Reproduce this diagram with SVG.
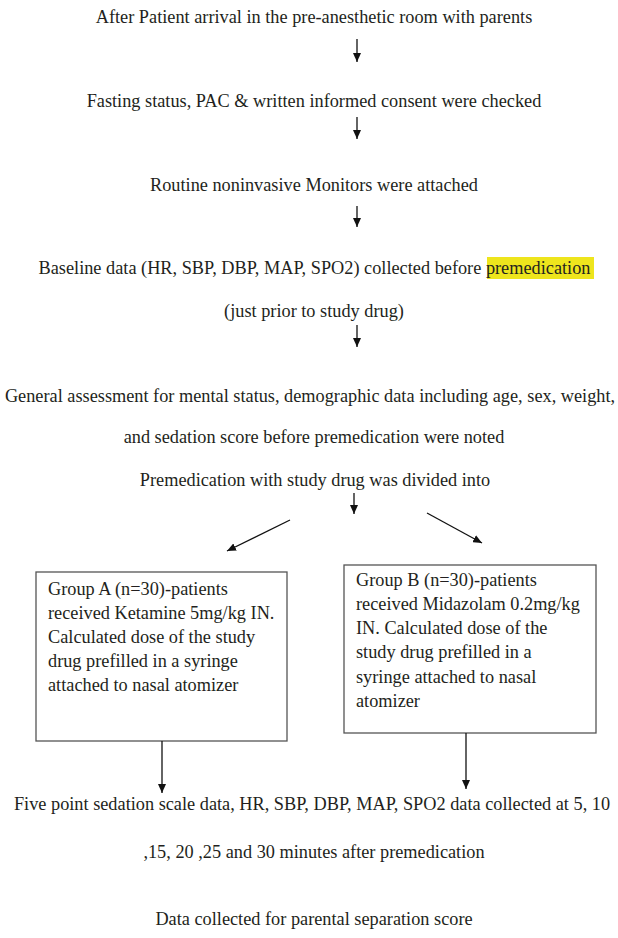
<svg xmlns="http://www.w3.org/2000/svg" width="618" height="938" viewBox="0 0 618 938">
<defs>
<marker id="ah" viewBox="0 0 9 8" refX="9" refY="4" markerWidth="9" markerHeight="8" markerUnits="userSpaceOnUse" orient="auto">
<path d="M0,0 L9,4 L0,8 z" fill="#111"/>
</marker>
<style>
text{font-family:"Liberation Serif","Times New Roman",serif;font-size:18.3px;fill:#231f20}
.c{text-anchor:middle}
.box{fill:none;stroke:#555;stroke-width:1.3}
.ln{stroke:#111;stroke-width:1.3;fill:none;marker-end:url(#ah)}
</style>
</defs>
<rect width="618" height="938" fill="#fff"/>
<g id="step1"><text class="c" x="314" y="23">After Patient arrival in the pre-anesthetic room with parents</text></g>
<g id="step2"><text class="c" x="314" y="107">Fasting status, PAC &amp; written informed consent were checked</text></g>
<g id="step3"><text class="c" x="314" y="191">Routine noninvasive Monitors were attached</text></g>
<g id="step4">
<rect x="487" y="257" width="107" height="22" fill="#eee51d"/>
<text class="c" x="314.5" y="274">Baseline data (HR, SBP, DBP, MAP, SPO2) collected before premedication</text>
<text class="c" x="314" y="317">(just prior to study drug)</text>
</g>
<g id="step5">
<text class="c" x="310" y="402">General assessment for mental status, demographic data including age, sex, weight,</text>
<text class="c" x="314" y="443">and sedation score before premedication were noted</text>
<text class="c" x="315" y="486">Premedication with study drug was divided into</text>
</g>
<g id="groupA">
<rect class="box" x="36" y="572" width="251" height="169"/>
<text x="48" y="595">Group A (n=30)-patients</text>
<text x="48" y="619">received Ketamine 5mg/kg IN.</text>
<text x="48" y="643">Calculated dose of the study</text>
<text x="48" y="667">drug prefilled in a syringe</text>
<text x="48" y="691">attached to nasal atomizer</text>
</g>
<g id="groupB">
<rect class="box" x="344" y="565" width="252" height="168"/>
<text x="356" y="586">Group B (n=30)-patients</text>
<text x="356" y="610">received Midazolam 0.2mg/kg</text>
<text x="356" y="634">IN. Calculated dose of the</text>
<text x="356" y="658">study drug prefilled in a</text>
<text x="356" y="683">syringe attached to nasal</text>
<text x="356" y="707">atomizer</text>
</g>
<g id="step6">
<text class="c" x="312" y="810">Five point sedation scale data, HR, SBP, DBP, MAP, SPO2 data collected at 5, 10</text>
<text class="c" x="314" y="858">,15, 20 ,25 and 30 minutes after premedication</text>
</g>
<g id="step7"><text class="c" x="314" y="925">Data collected for parental separation score</text></g>
<g id="connectors">
<line class="ln" x1="357" y1="39" x2="357" y2="62"/>
<line class="ln" x1="357" y1="117" x2="357" y2="139"/>
<line class="ln" x1="357" y1="206" x2="357" y2="227"/>
<line class="ln" x1="357" y1="325" x2="357" y2="347"/>
<line class="ln" x1="354" y1="493" x2="354" y2="514"/>
<line class="ln" x1="290" y1="520" x2="227" y2="551"/>
<line class="ln" x1="427" y1="513" x2="482" y2="543"/>
<line class="ln" x1="162" y1="741" x2="162" y2="793"/>
<line class="ln" x1="466" y1="733" x2="466" y2="789"/>
</g>
</svg>
